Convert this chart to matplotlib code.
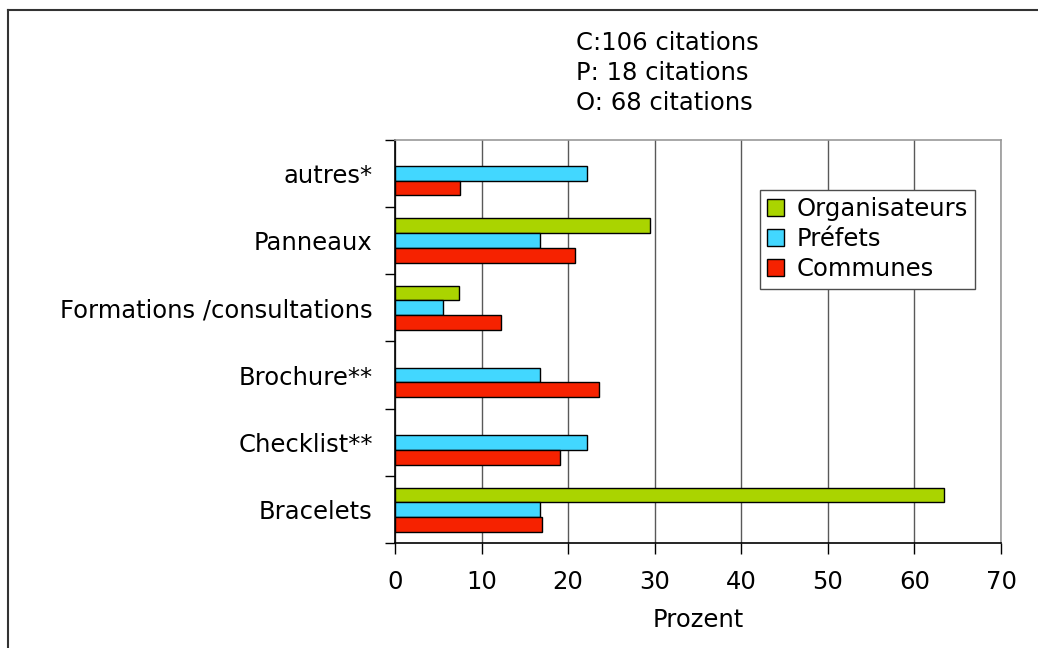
"""Grouped horizontal bar chart: moyens de prévention cités."""

import matplotlib

matplotlib.use("Agg")
import matplotlib.pyplot as plt
from matplotlib.lines import Line2D
import numpy as np

categories = ["Bracelets", "Checklist**", "Brochure**",
              "Formations /consultations", "Panneaux", "autres*"]
organisateurs = [63.4, 0, 0, 7.35, 29.5, 0]
prefets = [16.7, 22.2, 16.7, 5.6, 16.7, 22.2]
communes = [17.0, 19.1, 23.6, 12.3, 20.8, 7.5]
series_names = ["Organisateurs", "Préfets", "Communes"]
series_colors = ["#AAD400", "#42D7FF", "#F62200"]
notes = ["C:106 citations", "P: 18 citations", "O: 68 citations"]

plt.rcParams["font.family"] = ["DejaVu Sans"]
FS = 17.5

fig = plt.figure(figsize=(10.38, 6.48), dpi=100)
ax = fig.add_axes([0.3805, 0.1613, 0.9644 - 0.3805, 0.7847 - 0.1613])

y = np.arange(len(categories))
h = 0.218
for offset, vals, name, color in zip((h, 0, -h), (organisateurs, prefets, communes),
                                     series_names, series_colors):
    vals = np.array(vals, dtype=float)
    mask = vals > 0
    ax.barh(y[mask] + offset, vals[mask], height=h, color=color,
            edgecolor="black", linewidth=1.0, label=name, zorder=3)

ax.set_xlim(0, 70)
ax.set_ylim(-0.5, len(categories) - 0.5)
ax.set_xticks(np.arange(0, 71, 10))
ax.xaxis.grid(True, color="0.35", linewidth=1.0, zorder=0)

# category boundaries as major ticks, labels on minor ticks
ax.set_yticks(np.arange(-0.5, len(categories), 1.0))
ax.set_yticklabels([])
ax.set_yticks(y, minor=True)
ax.set_yticklabels(categories, minor=True, fontsize=FS)
ax.tick_params(axis="y", which="major", length=7, width=1, direction="out")
ax.tick_params(axis="y", which="minor", length=0, pad=16)
ax.tick_params(axis="x", length=8, width=1, direction="out", pad=11, labelsize=FS)

for side in ("left", "bottom"):
    ax.spines[side].set_color("black")
    ax.spines[side].set_linewidth(1.2)
for side in ("top", "right"):
    ax.spines[side].set_color("0.6")
    ax.spines[side].set_linewidth(1.2)

ax.set_xlabel("Prozent", fontsize=FS, labelpad=10)

leg = ax.legend(loc="upper left", bbox_to_anchor=(0.732, 0.707),
                bbox_transform=fig.transFigure, fontsize=FS, frameon=True,
                fancybox=False, framealpha=1, edgecolor="0.3",
                handlelength=0.7, handleheight=0.7, handletextpad=0.5,
                borderpad=0.3, labelspacing=0.25, borderaxespad=0)
leg.get_frame().set_linewidth(1.0)

for i, note in enumerate(notes):
    fig.text(576 / 1038, 1 - (43 + 30 * i) / 648, note, fontsize=FS,
             ha="left", va="center")

# outer chart frame (left and top edges only visible)
fig.add_artist(Line2D([8 / 1038, 8 / 1038], [0, 1 - 10 / 648],
                      transform=fig.transFigure, color="0.2", linewidth=1.5))
fig.add_artist(Line2D([8 / 1038, 1], [1 - 10 / 648, 1 - 10 / 648],
                      transform=fig.transFigure, color="0.2", linewidth=1.5))

fig.savefig("out.png", dpi=100)
